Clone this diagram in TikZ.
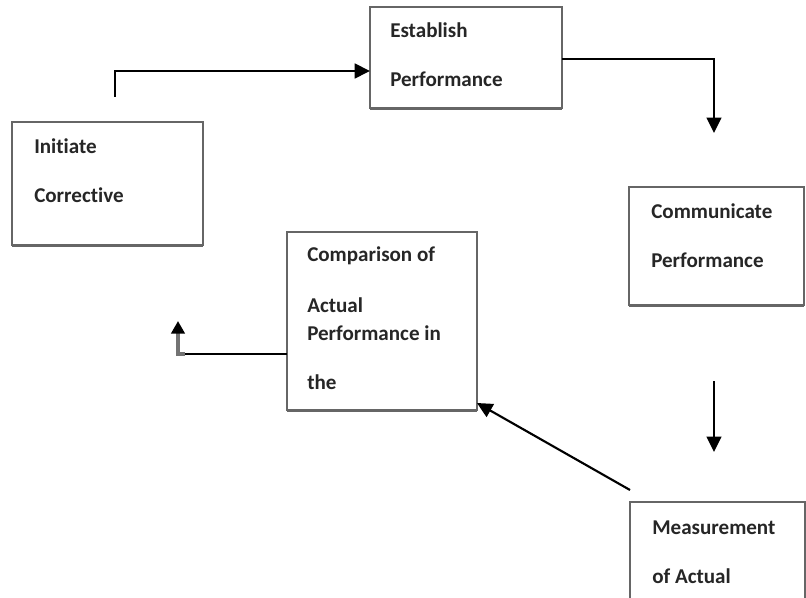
\documentclass[tikz,border=0pt]{standalone}
\usepackage{fontspec}
\setmainfont[Ligatures=NoCommon]{Carlito}
\usetikzlibrary{arrows.meta,shadows}

\begin{document}
\begin{tikzpicture}[x=0.75pt,y=-0.75pt]
\tikzstyle{box}=[draw=black!60,line width=0.9pt,fill=white,anchor=north west,inner sep=0pt,outer sep=0pt,general shadow={fill=black!60,shadow yshift=-1.8pt,shadow xshift=0.3pt}]
\tikzstyle{txt}=[anchor=base west,align=left,inner sep=0pt,text=black!85,font=\fontsize{15.8}{36.75}\selectfont\bfseries]
\tikzstyle{link}=[line width=1.6pt,-{Triangle[length=11.5pt,width=11pt]}]

\useasboundingbox (0,0) rectangle (806,598);

\node [box,minimum width=144pt,minimum height=75.75pt] (est) at (370,7) {};
\node [box,minimum width=143.25pt,minimum height=92.25pt] (ini) at (12,122) {};
\node [box,minimum width=131.25pt,minimum height=88.5pt] (com) at (629,187) {};
\node [box,minimum width=142.5pt,minimum height=133.5pt] (cmp) at (287,232) {};
\node [box,minimum width=131.25pt,minimum height=97.5pt] (mea) at (630,502) {};

\node [txt] (est-t) at ([shift={(20,80)}]est.north west) {Establish\\Performance};
\node [txt] (ini-t) at ([shift={(22,81)}]ini.north west) {Initiate\\Corrective};
\node [txt] (com-t) at ([shift={(22,81)}]com.north west) {Communicate\\Performance};
\node [txt,font=\fontsize{15.8}{21}\selectfont\bfseries] (cmp-t) at ([shift={(20,157)}]cmp.north west)
    {Comparison of\\[17.25pt]Actual\\Performance in\\[15.75pt]the};
\node [txt] (mea-t) at ([shift={(22,81)}]mea.north west) {Measurement\\of Actual};

\coordinate (s) at ([shift={(103,-25)}]ini.north west);
\draw[link,line width=2pt] (s) |- ([shift={(0,64)}]est.north west);
\draw[link] ([shift={(0,52)}]est.north east) -| ([shift={(85,-54)}]com.north west);
\draw[link] ([shift={(85,76)}]com.south west) -- ([shift={(84,-50)}]mea.north west);
\draw[link] ([shift={(0,-12)}]mea.north west) -- ([shift={(0,-7)}]cmp.south east);

\draw[line width=1pt] ([shift={(0,122)}]cmp.north west) -- ++(-102,0) coordinate (k);
\draw[black!55,line width=2.6pt,-{Triangle[length=9.5pt,width=10pt,color=black]}]
    (k) -| ++(-7,-33);

\end{tikzpicture}
\end{document}
